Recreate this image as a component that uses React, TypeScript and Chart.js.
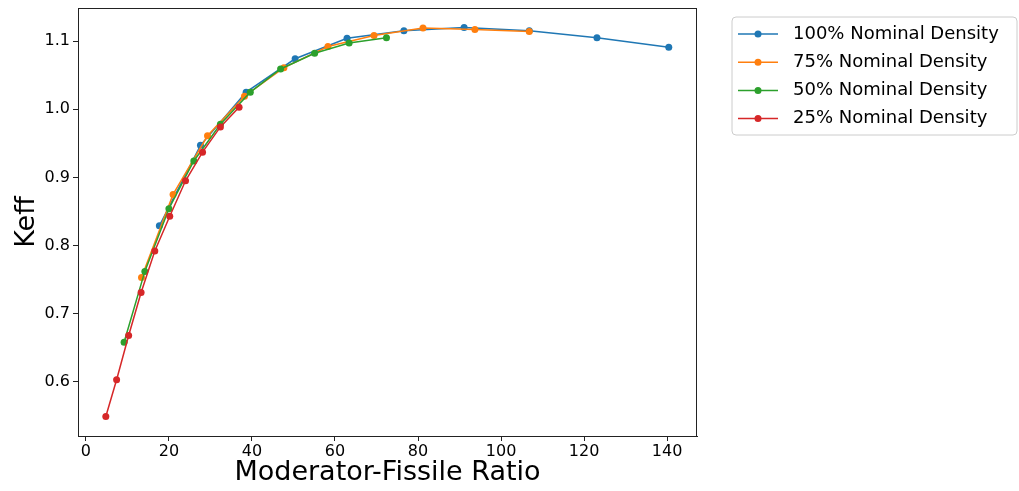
import React, { useEffect, useRef } from 'react';
import { Chart, registerables } from 'chart.js';
Chart.register(...registerables);

const seriesLabels = ['100% Nominal Density', '75% Nominal Density', '50% Nominal Density', '25% Nominal Density'];
const seriesColors = ['#1f77b4', '#ff7f0e', '#2ca02c', '#d62728'];

const x100 = [17.7, 27.6, 38.6, 50.4, 62.9, 76.6, 91.1, 106.8, 123.1, 140.4];
const y100 = [0.829, 0.947, 1.025, 1.074, 1.104, 1.115, 1.120, 1.115, 1.105, 1.091];

const x75 = [13.4, 21.0, 29.3, 38.2, 47.7, 58.3, 69.4, 81.2, 93.7, 106.8];
const y75 = [0.753, 0.875, 0.961, 1.019, 1.061, 1.092, 1.108, 1.119, 1.117, 1.114];

const x50 = [9.2, 14.2, 20.0, 26.0, 32.4, 39.6, 46.9, 55.1, 63.4, 72.4];
const y50 = [0.658, 0.762, 0.854, 0.924, 0.978, 1.025, 1.059, 1.082, 1.097, 1.105];

const x25 = [4.8, 7.4, 10.3, 13.3, 16.6, 20.2, 24.0, 28.1, 32.4, 36.9];
const y25 = [0.549, 0.603, 0.668, 0.731, 0.792, 0.843, 0.895, 0.937, 0.974, 1.003];

const xTicks = [0, 20, 40, 60, 80, 100, 120, 140];
const yTicks = [0.6, 0.7, 0.8, 0.9, 1.0, 1.1];

const xTitle = 'Moderator-Fissile Ratio';
const yTitle = 'Keff';

const FONT = "'DejaVu Sans', sans-serif";

function pts(xs: number[], ys: number[]) {
  return xs.map((x, i) => ({ x, y: ys[i] }));
}

const framePlugin = {
  id: 'frame',
  afterDatasetsDraw(chart: any) {
    const { ctx, chartArea } = chart;
    ctx.save();
    ctx.strokeStyle = '#222';
    ctx.lineWidth = 1;
    ctx.strokeRect(chartArea.left + 0.5, chartArea.top + 0.5, chartArea.right - chartArea.left - 1, chartArea.bottom - chartArea.top);
    ctx.restore();
  },
};

const legendPlugin = {
  id: 'customLegend',
  afterDraw(chart: any) {
    const ctx = chart.ctx;
    ctx.save();
    const bx = 732, by = 17, bw = 285, bh = 118, r = 4;
    ctx.beginPath();
    ctx.moveTo(bx + r, by);
    ctx.lineTo(bx + bw - r, by);
    ctx.quadraticCurveTo(bx + bw, by, bx + bw, by + r);
    ctx.lineTo(bx + bw, by + bh - r);
    ctx.quadraticCurveTo(bx + bw, by + bh, bx + bw - r, by + bh);
    ctx.lineTo(bx + r, by + bh);
    ctx.quadraticCurveTo(bx, by + bh, bx, by + bh - r);
    ctx.lineTo(bx, by + r);
    ctx.quadraticCurveTo(bx, by, bx + r, by);
    ctx.closePath();
    ctx.fillStyle = 'rgba(255,255,255,0.8)';
    ctx.fill();
    ctx.strokeStyle = '#cccccc';
    ctx.lineWidth = 1;
    ctx.stroke();
    ctx.font = `18px ${FONT}`;
    ctx.textBaseline = 'middle';
    ctx.textAlign = 'left';
    seriesLabels.forEach((label, i) => {
      const y = 34 + i * 28.2;
      ctx.strokeStyle = seriesColors[i];
      ctx.lineWidth = 1.5;
      ctx.beginPath();
      ctx.moveTo(738, y);
      ctx.lineTo(778, y);
      ctx.stroke();
      ctx.fillStyle = seriesColors[i];
      ctx.beginPath();
      ctx.arc(758, y, 3.5, 0, Math.PI * 2);
      ctx.fill();
      ctx.fillStyle = '#000';
      ctx.fillText(label, 793, y);
    });
    ctx.restore();
  },
};

export default function App() {
  const canvasRef = useRef<HTMLCanvasElement>(null);

  useEffect(() => {
    document.body.style.margin = '0';
    const canvas = canvasRef.current;
    if (!canvas) return;
    const xs = [x100, x75, x50, x25];
    const ys = [y100, y75, y50, y25];
    const chart = new Chart(canvas, {
      type: 'scatter',
      data: {
        datasets: seriesLabels.map((label, i) => ({
          label,
          data: pts(xs[i], ys[i]),
          showLine: true,
          borderColor: seriesColors[i],
          backgroundColor: seriesColors[i],
          borderWidth: 1.5,
          pointRadius: 3.5,
          pointBorderWidth: 0,
          pointHoverRadius: 3.5,
          order: 4 - i,
        })),
      },
      options: {
        animation: false,
        responsive: false,
        devicePixelRatio: 1,
        layout: { padding: { left: 0, top: 8, right: 322, bottom: 0 } },
        plugins: {
          legend: { display: false },
          tooltip: { enabled: false },
        },
        scales: {
          x: {
            type: 'linear',
            min: -1.9,
            max: 147.2,
            afterBuildTicks: (axis: any) => {
              axis.ticks = xTicks.map((v) => ({ value: v }));
            },
            afterFit: (scale: any) => {
              scale.height = 55;
              scale.paddingLeft = 0;
              scale.paddingRight = 0;
            },
            grid: { drawOnChartArea: false, drawTicks: true, tickLength: 5, color: '#222', tickWidth: 1 },
            border: { display: true, color: '#222', width: 1 },
            ticks: {
              color: '#000',
              font: { family: FONT, size: 16 },
              padding: 1,
              maxRotation: 0,
              autoSkip: false,
              callback: (v: any) => String(v),
            },
            title: {
              display: true,
              text: xTitle,
              color: '#000',
              font: { family: FONT, size: 27, lineHeight: 1.2 },
              padding: { top: 0, bottom: 2 },
            },
          },
          y: {
            type: 'linear',
            min: 0.5205,
            max: 1.1485,
            afterBuildTicks: (axis: any) => {
              axis.ticks = yTicks.map((v) => ({ value: v }));
            },
            afterFit: (scale: any) => {
              scale.width = 78;
              scale.paddingTop = 0;
              scale.paddingBottom = 0;
            },
            grid: { drawOnChartArea: false, drawTicks: true, tickLength: 5, color: '#222', tickWidth: 1 },
            border: { display: true, color: '#222', width: 1 },
            ticks: {
              color: '#000',
              font: { family: FONT, size: 16 },
              padding: 3,
              autoSkip: false,
              callback: (v: any) => Number(v).toFixed(1),
            },
            title: {
              display: true,
              text: yTitle,
              color: '#000',
              font: { family: FONT, size: 27, lineHeight: 1.2 },
              padding: { top: 11, bottom: 0 },
            },
          },
        },
      },
      plugins: [framePlugin, legendPlugin],
    });
    return () => chart.destroy();
  }, []);

  return (
    <div style={{ width: 1019, height: 491 }}>
      <canvas ref={canvasRef} width={1019} height={491} style={{ display: 'block' }} />
    </div>
  );
}
